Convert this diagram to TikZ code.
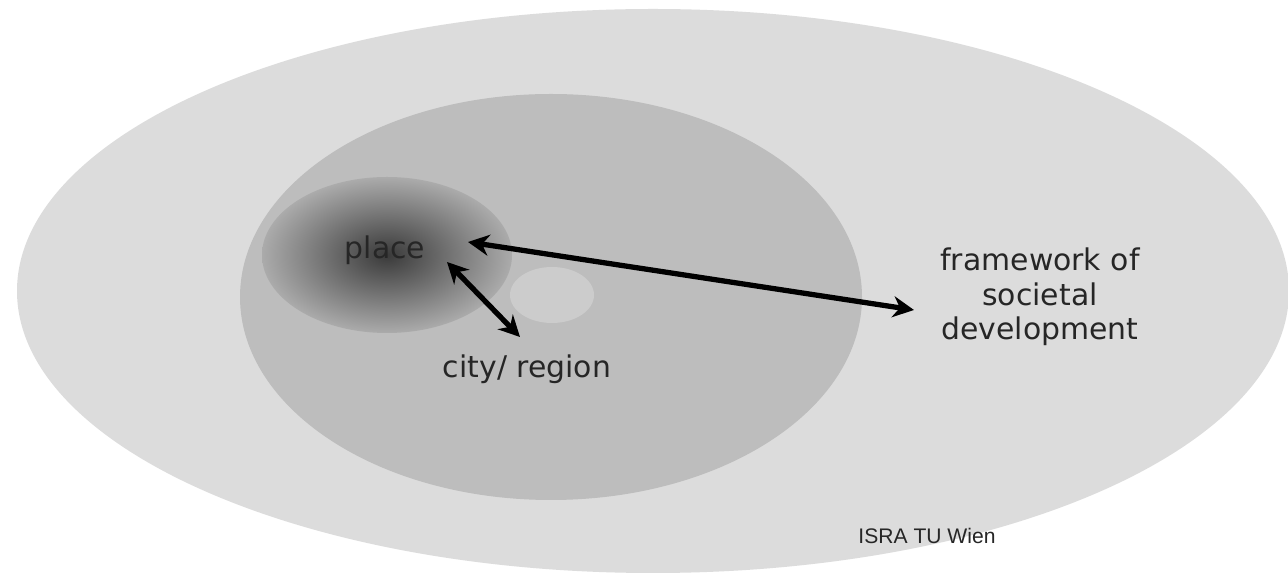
\documentclass[tikz,border=0pt]{standalone}
\usepackage{fontspec}
\setmainfont{DejaVu Sans}
\newfontfamily\arialfont{Liberation Sans}
\usetikzlibrary{arrows.meta}
\definecolor{outergray}{RGB}{220,220,220}
\definecolor{citygray}{RGB}{189,189,189}
\definecolor{placegray}{RGB}{171,171,171}
\definecolor{placedark}{RGB}{58,58,58}
\definecolor{spotgray}{RGB}{204,204,204}

\begin{document}
\begin{tikzpicture}[x=0.02cm, y=-0.02cm]
			\tikzstyle{label}=[font=\fontsize{17}{19.5}\selectfont, text=black!85, align=center]
			\tikzstyle{link}=[{Stealth[length=12pt,width=12pt]}-{Stealth[length=12pt,width=12pt]}, line width=3pt, black]
			
			% Frame of the picture
			\useasboundingbox (0,0) rectangle (1288,573);
			\clip (0,0) rectangle (1288,573);
			\fill[white] (0,0) rectangle (1288,573);
			
			% Draw the ellipses
			\fill[outergray] (653,291) ellipse (636 and 282);
			\fill[citygray] (551,297) ellipse (311 and 203);
			\shade[inner color=placedark, outer color=placegray] (387,255) ellipse (125 and 78);
			\fill[spotgray] (552,295) ellipse (42 and 28);
			
			% Draw labels
			\node[label] (place) at (385,250) {place};
			\node[label] (city) at (527,369) {city/ region};
			\node[label] (frame) at (1040,297) {framework of\\societal\\development};
			\node[font=\arialfont\fontsize{12}{14}\selectfont, text=black!85] (isra) at (927,536) {ISRA TU Wien};
			
			% Draw arrows
			\coordinate (p1) at (468,242);
			\coordinate (f1) at (914,310);
			\coordinate (p2) at (447,262);
			\coordinate (c1) at (520,337);
			\draw[link] (p1) -- (f1);
			\draw[link] (p2) -- (c1);
			
		\end{tikzpicture}
\end{document}
